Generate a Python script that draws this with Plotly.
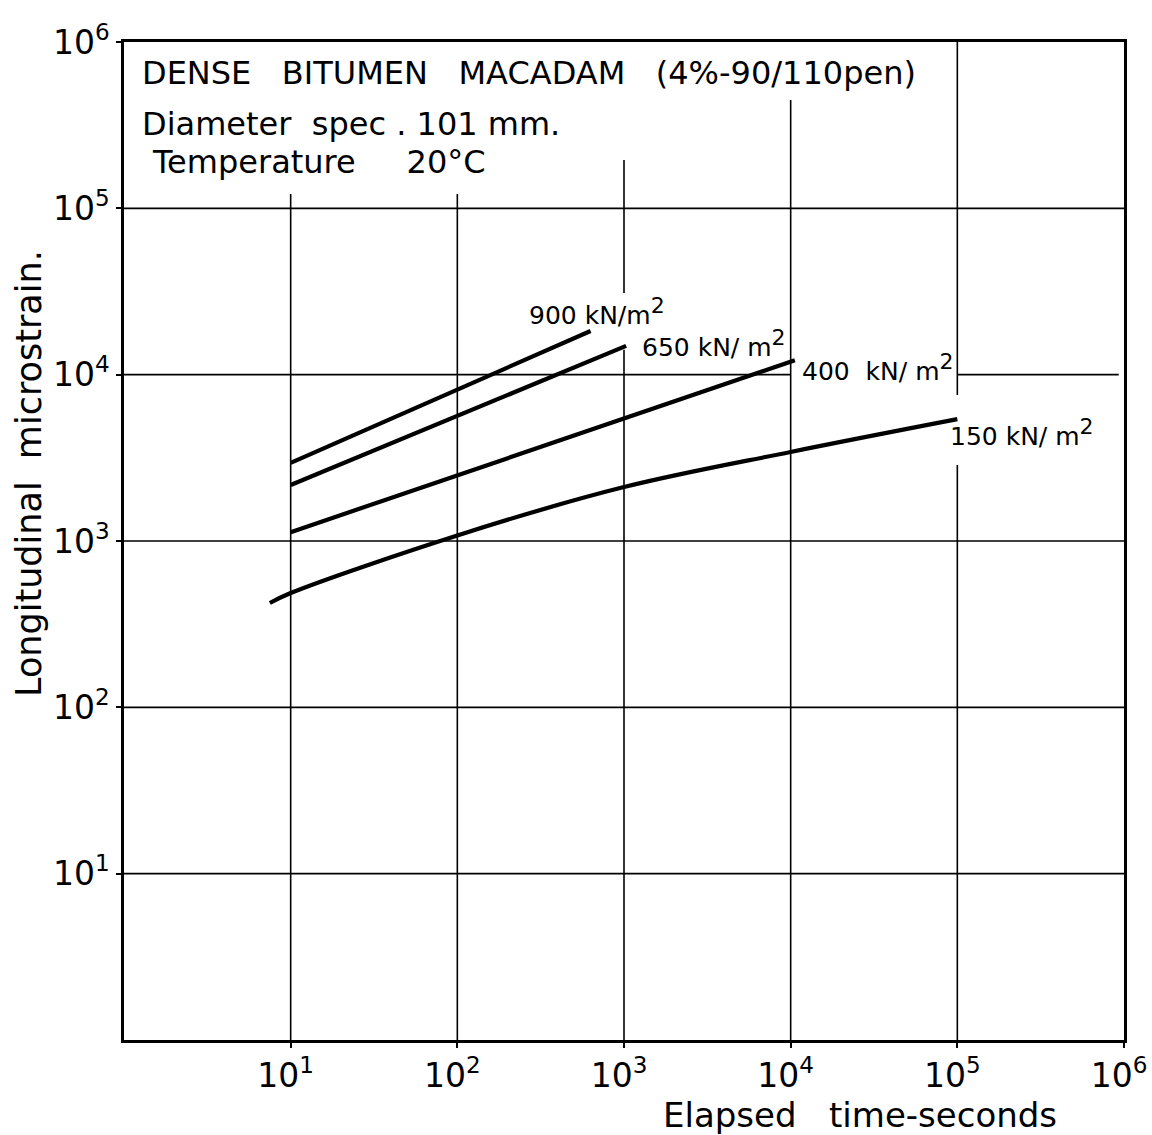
import plotly.graph_objects as go

# Creep curves: elapsed time (s) vs longitudinal microstrain, per stress level
time_900 = [10, 630]
strain_900 = [2950, 18300]

time_650 = [10, 1030]
strain_650 = [2170, 14900]

time_400 = [10, 100, 1000, 10600]
strain_400 = [1130, 2490, 5480, 12200]

time_150 = [7.5, 10, 100, 1000, 10000, 100000]
strain_150 = [424, 487, 1080, 2110, 3430, 5400]

SUP2 = "<sup><span style='font-size:22px'>2</span></sup>"
curve_labels = ["900 kN/m" + SUP2, "650 kN/ m" + SUP2,
                "400  kN/ m" + SUP2, "150 kN/ m" + SUP2]

decades = [1e1, 1e2, 1e3, 1e4, 1e5, 1e6]
decade_text = ["10<sup>1</sup>", "10<sup>2</sup>", "10<sup>3</sup>",
               "10<sup>4</sup>", "10<sup>5</sup>", "10<sup>6</sup>"]

FONT = "DejaVu Sans"

fig = go.Figure()

# Hand-drawn grid: lines stop short of the title block and the curve labels
grid_v = [
    ([10, 10], [1, 1.22e5]),
    ([100, 100], [1, 1.22e5]),
    ([1000, 1000], [1, 1.41e4]),
    ([1000, 1000], [3.1e4, 1.95e5]),
    ([1e4, 1e4], [1, 4.48e5]),
    ([1e5, 1e5], [1, 2.86e3]),
    ([1e5, 1e5], [7.55e3, 1e6]),
]
grid_h = [
    ([1, 1e6], [10, 10]),
    ([1, 1e6], [100, 100]),
    ([1, 1e6], [1000, 1000]),
    ([1, 1e4], [1e4, 1e4]),
    ([1e5, 9.3e5], [1e4, 1e4]),
    ([1, 1e6], [1e5, 1e5]),
]
gx, gy = [], []
for xs, ys in grid_v + grid_h:
    gx += xs + [None]
    gy += ys + [None]
fig.add_trace(go.Scatter(x=gx, y=gy, mode="lines",
                         line=dict(color="black", width=1.6),
                         hoverinfo="skip", showlegend=False))

series = [
    (time_900, strain_900, "linear"),
    (time_650, strain_650, "linear"),
    (time_400, strain_400, "linear"),
    (time_150, strain_150, "spline"),
]
for t, s, shape in series:
    fig.add_trace(go.Scatter(x=t, y=s, mode="lines",
                             line=dict(color="black", width=4.2, shape=shape),
                             showlegend=False))

# Curve labels (annotation positions on log axes are log10 values)
label_pos = [(2.418, 4.377), (3.096, 4.190), (4.056, 4.046), (4.944, 3.655)]
for text, (lx, ly) in zip(curve_labels, label_pos):
    fig.add_annotation(x=lx, y=ly, xref="x", yref="y", text=text,
                       showarrow=False, xanchor="left", yanchor="middle",
                       font=dict(family=FONT, size=25, color="black"))

# Title block in the upper-left of the plot
title_lines = [
    ("DENSE   BITUMEN   MACADAM   (4%-90/110pen)", 140, 73),
    ("Diameter  spec . 101 mm.", 140, 124),
    ("Temperature     20°C", 150, 162),
]
for text, px, py in title_lines:
    fig.add_annotation(x=(px - 124) / 1000, y=(1040 - py) / 998,
                       xref="paper", yref="paper", text=text, showarrow=False,
                       xanchor="left", yanchor="middle",
                       font=dict(family=FONT, size=32, color="black"))

# Axis titles
fig.add_annotation(x=(29 - 124) / 1000, y=(1040 - 474) / 998,
                   xref="paper", yref="paper", text="Longitudinal  microstrain.",
                   showarrow=False, textangle=-90, xanchor="center", yanchor="middle",
                   font=dict(family=FONT, size=35, color="black"))
fig.add_annotation(x=(860 - 124) / 1000, y=(1040 - 1115) / 998,
                   xref="paper", yref="paper", text="Elapsed   time-seconds",
                   showarrow=False, xanchor="center", yanchor="middle",
                   font=dict(family=FONT, size=34, color="black"))

axis_common = dict(
    type="log", range=[0, 6], tickvals=decades, ticktext=decade_text,
    showgrid=False, zeroline=False, showline=True, mirror=True,
    linecolor="black", linewidth=2.5, ticks="outside", ticklen=5,
    tickwidth=1.5, tickcolor="black", automargin=False,
    ticklabeloverflow="allow",
    tickfont=dict(family=FONT, size=33, color="black"),
)
fig.update_xaxes(**axis_common, ticklabelshift=-5)
fig.update_yaxes(**axis_common)

fig.update_layout(
    width=1152, height=1135,
    margin=dict(l=124, r=28, t=42, b=95),
    paper_bgcolor="white", plot_bgcolor="white",
    showlegend=False,
)

fig.write_html("out.html")
